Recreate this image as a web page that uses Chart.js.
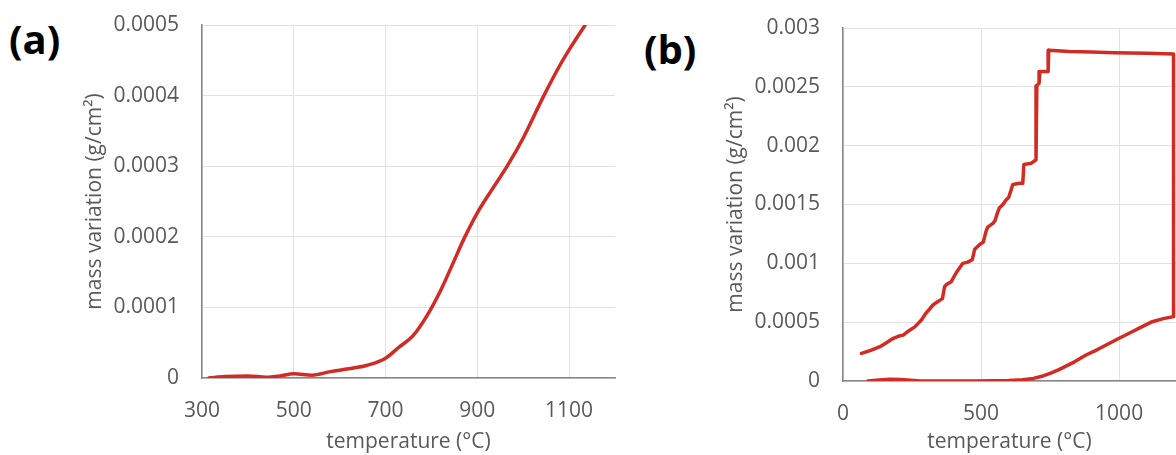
<!DOCTYPE html>
<html>
<head>
<meta charset="utf-8">
<script src="https://cdn.jsdelivr.net/npm/chart.js@4.4.1/dist/chart.umd.min.js"></script>
<style>
  html, body { margin: 0; padding: 0; background: #fff; }
  body { width: 1176px; height: 455px; overflow: hidden; position: relative; }
  canvas { position: absolute; top: 0; }
  #chartA { left: 0; }
  #chartB { left: 620px; }
  .tag { position: absolute; font-family: "Open Sans", sans-serif; font-weight: 700; font-size: 40px; line-height: 1; color: #000; }
  #tagA { left: 9px; top: 19px; }
  #tagB { left: 644px; top: 29px; }
</style>
</head>
<body>
<div class="tag" id="tagA">(a)</div>
<div class="tag" id="tagB">(b)</div>
<canvas id="chartA" width="640" height="455"></canvas>
<canvas id="chartB" width="556" height="455"></canvas>
<script>
// (a) mass gain while heating
const tempA = [315, 350, 400, 440, 470, 500, 540, 580, 620, 660, 700, 730, 760, 790, 820, 850, 870, 900, 930, 965, 1000, 1045, 1080, 1105, 1135];
const massA = [0, 0.000002, 0.000003, 0.000001, 0.000003, 0.000006, 0.000004, 0.000009, 0.000013, 0.000018, 0.000028,
  0.000044, 0.00006, 0.000088, 0.000124, 0.000167, 0.000196, 0.000234, 0.000265, 0.0003, 0.00034, 0.0004, 0.000443, 0.00047, 0.0005];

// (b) heating, hold at top temperature, then cooling (in time order)
const tempB = [90, 130, 170, 210, 245, 280, 350, 420, 480, 540, 600, 650, 690, 720, 750, 780, 800, 840, 880, 920, 960, 1000, 1040, 1080, 1120, 1160, 1197,
  1197, 1100, 980, 900, 820, 745, 743, 713, 710, 702, 699, 681, 655, 651, 639, 615, 600, 591, 579, 566, 561, 550, 543, 525, 519,
  508, 495, 477, 468, 452, 434, 422, 410, 392, 375, 368, 360, 340, 326, 300, 284, 260, 240, 218, 200, 182, 160, 134, 100, 67];
const massB = [0, 0.000008, 0.000014, 0.000012, 0.000006, 0, 0, 0, 0, 0.000002, 0.000004, 0.00001, 0.000022, 0.00004, 0.000065, 0.000095,
  0.000118, 0.000165, 0.000221, 0.000265, 0.000315, 0.000363, 0.00041, 0.000458, 0.000504, 0.00053, 0.000547,
  0.00278, 0.002785, 0.00279, 0.002795, 0.0028, 0.00281, 0.00263, 0.00263, 0.00253, 0.00251, 0.00188, 0.00185, 0.00184, 0.00168,
  0.00168, 0.00167, 0.00156, 0.00154, 0.0015, 0.00147, 0.00144, 0.00136, 0.00134, 0.00131, 0.00128, 0.00118, 0.00116, 0.00112,
  0.00103, 0.00101, 0.001, 0.00096, 0.00092, 0.000844, 0.00082, 0.000802, 0.0007, 0.00067, 0.000646, 0.000575, 0.000519,
  0.00046, 0.00043, 0.00039, 0.00038, 0.000363, 0.00033, 0.000292, 0.00026, 0.000235];

const xTicksA = [300, 500, 700, 900, 1100];
const yTicksA = [0, 0.0001, 0.0002, 0.0003, 0.0004, 0.0005];
const xTicksB = [0, 500, 1000];
const yTicksB = [0, 0.0005, 0.001, 0.0015, 0.002, 0.0025, 0.003];

const xTitle = "temperature (°C)";
const yTitle = "mass variation (g/cm²)";

const FONT = { family: "'Open Sans', sans-serif", size: 21 };
const TEXT = "#595959";
const GRID = "#e2e2e2";
const AXIS = "#868686";
const RED = "#d22b24";

function makeChart(id, temps, masses, opts) {
  const points = temps.map((t, i) => ({ x: t, y: masses[i] }));
  return new Chart(document.getElementById(id), {
    type: "scatter",
    data: {
      datasets: [{
        data: points,
        showLine: true,
        borderColor: RED,
        borderWidth: 3.5,
        pointRadius: 0,
        cubicInterpolationMode: opts.smooth ? "monotone" : "default",
        tension: 0,
        borderJoinStyle: "round",
        borderCapStyle: "round"
      }]
    },
    options: {
      responsive: false,
      animation: false,
      devicePixelRatio: 1,
      layout: { padding: opts.padding },
      plugins: { legend: { display: false }, tooltip: { enabled: false } },
      scales: {
        x: {
          type: "linear",
          min: opts.xMin,
          max: opts.xMax,
          afterBuildTicks: s => { s.ticks = opts.xTicks.map(v => ({ value: v })); },
          afterFit: s => { s.height = opts.xHeight; },
          grid: { color: GRID, lineWidth: 1, drawTicks: false },
          border: { color: AXIS, width: 1.5 },
          ticks: { color: TEXT, font: FONT, padding: 20, maxRotation: 0, callback: v => String(v) },
          title: { display: true, text: xTitle, color: TEXT, font: FONT, padding: 0 }
        },
        y: {
          type: "linear",
          min: 0,
          max: opts.yMax,
          afterBuildTicks: s => { s.ticks = opts.yTicks.map(v => ({ value: v })); },
          // fixed axis width; keep tick padding from pushing the plot top down
          afterFit: s => { s.width = opts.yWidth; s.paddingTop = 12; s.paddingBottom = 12; },
          grid: { color: GRID, lineWidth: 1, drawTicks: false },
          border: { color: AXIS, width: 1.5 },
          ticks: { color: TEXT, font: FONT, padding: 23, callback: v => String(Number(v.toFixed(4))) },
          title: { display: true, text: yTitle, color: TEXT, font: FONT, padding: 0 }
        }
      }
    }
  });
}

makeChart("chartA", tempA, massA, {
  padding: { left: 82, right: 25, top: 25, bottom: 0 },
  xMin: 300, xMax: 1200, xTicks: xTicksA,
  yMax: 0.0005, yTicks: yTicksA,
  yWidth: 120, xHeight: 77, smooth: true
});

makeChart("chartB", tempB, massB, {
  padding: { left: 103, right: 0, top: 28, bottom: 0 },
  xMin: 0, xMax: 1206, xTicks: xTicksB,
  yMax: 0.003, yTicks: yTicksB,
  yWidth: 120, xHeight: 74, smooth: false
});
</script>
</body>
</html>
